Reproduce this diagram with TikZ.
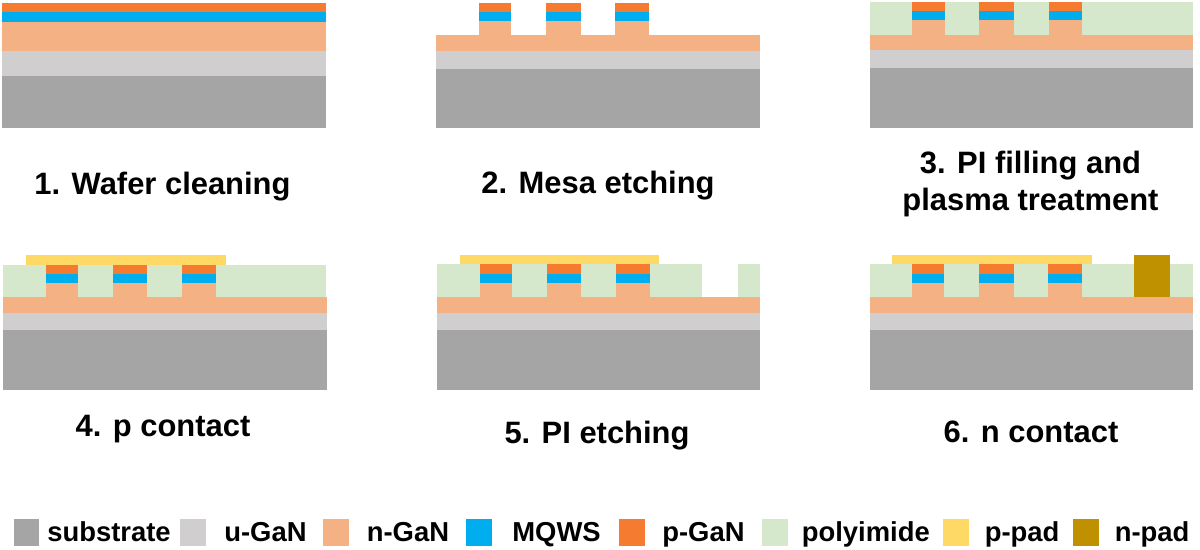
\documentclass[tikz,border=0pt]{standalone}
\usepackage{fontspec}
\setmainfont{Liberation Sans}
\definecolor{csub}{HTML}{A5A5A5}
\definecolor{cu}{HTML}{D0CECE}
\definecolor{cn}{HTML}{F4B183}
\definecolor{cq}{HTML}{00AEEF}
\definecolor{cp}{HTML}{F47B30}
\definecolor{cpi}{HTML}{D5E8CC}
\definecolor{cpp}{HTML}{FFD966}
\definecolor{cnp}{HTML}{BF9000}
\tikzset{
  title/.style={font=\fontsize{17.6}{21}\selectfont\bfseries,text=black,inner sep=0pt,anchor=base},
  legtext/.style={font=\fontsize{15.6}{18}\selectfont\bfseries,text=black,inner sep=0pt,anchor=base west},
}
\newcommand{\lay}[5]{\fill[#5] (#1,#2) rectangle (#3,#4);}
% mesa: x1 x2 top mqwtop mqwbottom base
\newcommand{\mesa}[6]{\lay{#1}{#3}{#2}{#4}{cp}\lay{#1}{#4}{#2}{#5}{cq}\lay{#1}{#5}{#2}{#6}{cn}}
\begin{document}
\begin{tikzpicture}[x=0.02cm,y=-0.02cm]
\useasboundingbox (0,0) rectangle (1200,550);
% panel 1
\lay{2.5}{76}{326}{128.5}{csub}
\lay{2.5}{51}{326}{76}{cu}
\lay{2.5}{22}{326}{51}{cn}
\lay{2.5}{12}{326}{22}{cq}
\lay{2.5}{3}{326}{12}{cp}
% panel 2
\lay{436}{69}{759.5}{128.5}{csub}
\lay{436}{51}{759.5}{69}{cu}
\lay{436}{35.5}{759.5}{51}{cn}
\mesa{479}{511}{3}{12}{21}{36}
\mesa{546}{580.5}{3}{12}{21}{36}
\mesa{615}{649}{3}{12}{21}{36}
% panel 3
\lay{869.5}{68}{1193}{128}{csub}
\lay{869.5}{50.5}{1193}{68}{cu}
\lay{869.5}{35}{1193}{50.5}{cn}
\lay{869.5}{2.5}{1193}{35}{cpi}
\mesa{912}{944.5}{2.5}{11.5}{20.5}{36}
\mesa{979}{1014}{2.5}{11.5}{20.5}{36}
\mesa{1048.5}{1082}{2.5}{11.5}{20.5}{36}
% panel 4
\lay{3}{330.5}{326.5}{390.5}{csub}
\lay{3}{313}{326.5}{330.5}{cu}
\lay{3}{297}{326.5}{313}{cn}
\lay{3}{265}{326}{297}{cpi}
\mesa{45.5}{77.5}{265}{274}{283}{298}
\mesa{112.5}{147}{265}{274}{283}{298}
\mesa{182}{216}{265}{274}{283}{298}
\lay{26}{255}{226}{265}{cpp}
% panel 5
\lay{437}{330.5}{760}{390.5}{csub}
\lay{437}{313}{760}{330.5}{cu}
\lay{437}{297}{760}{313}{cn}
\lay{437}{264.5}{702}{297}{cpi}
\lay{737.5}{264.5}{760}{297}{cpi}
\mesa{479.5}{512}{264.5}{274}{283.5}{298}
\mesa{546.5}{581}{264.5}{274}{283.5}{298}
\mesa{616}{649.5}{264.5}{274}{283.5}{298}
\lay{460}{255}{659}{264.5}{cpp}
% panel 6
\lay{869.5}{330.5}{1192.5}{390.5}{csub}
\lay{869.5}{313}{1192.5}{330.5}{cu}
\lay{869.5}{297}{1192.5}{313}{cn}
\lay{869.5}{264.5}{1192.5}{297}{cpi}
\mesa{912}{944}{264.5}{274}{283.5}{298}
\mesa{979}{1014}{264.5}{274}{283.5}{298}
\mesa{1048}{1082}{264.5}{274}{283.5}{298}
\lay{892}{255}{1091.5}{264.5}{cpp}
\lay{1134}{255}{1170}{297.5}{cnp}
% titles
\node[title] (t1) at (162.5,195) {1. Wafer cleaning};
\node[title] (t2) at (598,194) {2. Mesa etching};
\node[title] (t3a) at (1030.5,173.5) {3. PI filling and};
\node[title] (t3b) at (1030.5,211) {plasma treatment};
\node[title] (t4) at (163,437) {4. p contact};
\node[title] (t5) at (597,443) {5. PI etching};
\node[title] (t6) at (1031,442) {6. n contact};
% legend
\lay{14}{518.5}{39}{545.5}{csub}
\lay{180}{518.5}{205.5}{545.5}{cu}
\lay{322.5}{518.5}{348.5}{545.5}{cn}
\lay{465.5}{518.5}{491.5}{545.5}{cq}
\lay{619}{518.5}{645}{545.5}{cp}
\lay{761.5}{518.5}{787.5}{545.5}{cpi}
\lay{942.5}{518.5}{968.5}{545.5}{cpp}
\lay{1073}{518.5}{1099}{545.5}{cnp}
\node[legtext] (l1) at (47,541) {substrate};
\node[legtext] (l2) at (224,541) {u-GaN};
\node[legtext] (l3) at (366.5,541) {n-GaN};
\node[legtext] (l4) at (512,541) {MQWS};
\node[legtext] (l5) at (662,541) {p-GaN};
\node[legtext] (l6) at (801.5,541) {polyimide};
\node[legtext] (l7) at (984.5,541) {p-pad};
\node[legtext] (l8) at (1114.5,541) {n-pad};
\end{tikzpicture}
\end{document}
